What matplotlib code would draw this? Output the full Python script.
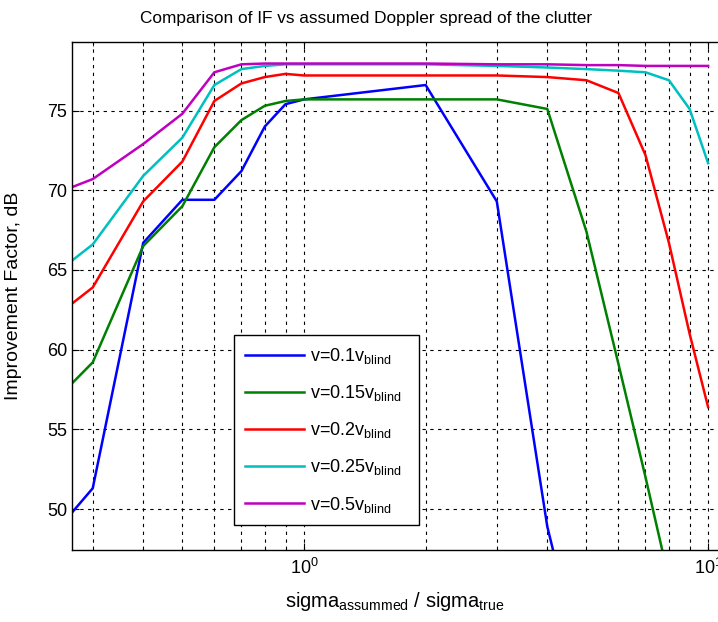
import matplotlib
matplotlib.use("Agg")
import matplotlib.pyplot as plt
import numpy as np
from matplotlib.ticker import LogLocator, FixedLocator, NullFormatter

plt.rcParams["font.family"] = ["Liberation Sans", "DejaVu Sans"]
plt.rcParams["mathtext.default"] = "regular"

# sigma_assumed / sigma_true sample points
sigma_ratio = [0.267, 0.3, 0.4, 0.5, 0.6, 0.7, 0.8, 0.9, 1.0, 2.0, 3.0, 4.0, 5.0, 6.0, 7.0, 8.0, 9.0, 10.0]

if_v010 = [49.8, 51.3, 66.7, 69.4, 69.4, 71.2, 74.0, 75.4, 75.7, 76.6, 69.3, 48.9, 38.9, 30.0, 25.0, 20.0, 15.0, 10.0]
if_v015 = [57.9, 59.2, 66.5, 69.0, 72.7, 74.4, 75.3, 75.6, 75.7, 75.7, 75.7, 75.1, 67.4, 59.1, 52.0, 45.6, 40.0, 35.0]
if_v020 = [62.9, 63.9, 69.3, 71.8, 75.6, 76.7, 77.1, 77.3, 77.2, 77.2, 77.2, 77.1, 76.9, 76.1, 72.2, 66.7, 61.0, 56.4]
if_v025 = [65.6, 66.6, 70.9, 73.3, 76.6, 77.6, 77.8, 77.9, 77.9, 77.9, 77.8, 77.7, 77.6, 77.5, 77.4, 76.9, 75.1, 71.7]
if_v050 = [70.2, 70.7, 72.9, 74.8, 77.4, 77.9, 77.95, 77.95, 77.95, 77.95, 77.9, 77.9, 77.85, 77.85, 77.8, 77.8, 77.8, 77.8]

labels = [r"v=0.1v$_{blind}$", r"v=0.15v$_{blind}$", r"v=0.2v$_{blind}$",
          r"v=0.25v$_{blind}$", r"v=0.5v$_{blind}$"]
colors = ["#0000FF", "#008000", "#FF0000", "#00BFBF", "#BF00BF"]

W, H = 718, 622
fig = plt.figure(figsize=(W / 100, H / 100), dpi=100)
left, right, top, bottom = 72, 730, 42, 550
ax = fig.add_axes([left / W, (H - bottom) / H, (right - left) / W, (bottom - top) / H])

for vals, lab, col in zip([if_v010, if_v015, if_v020, if_v025, if_v050], labels, colors):
    ax.plot(sigma_ratio, vals, color=col, lw=1.8, label=lab)

ax.set_xscale("log")
ax.set_xlim(0.2666, 11.33)
ax.set_ylim(47.43, 79.3)
ax.set_yticks([50, 55, 60, 65, 70, 75])
ax.xaxis.set_major_locator(FixedLocator([1, 10]))
ax.xaxis.set_minor_locator(LogLocator(base=10, subs=np.arange(2, 10)))
ax.xaxis.set_minor_formatter(NullFormatter())

ax.tick_params(which="both", direction="in", top=True, right=True, labelsize=13)
ax.tick_params(which="major", length=5)
ax.tick_params(which="minor", length=3)
ax.tick_params(axis="x", pad=6)
ax.grid(True, which="both", axis="x", color="black", linestyle=(0, (3, 4)), lw=0.8)
ax.grid(True, which="major", axis="y", color="black", linestyle=(0, (3, 4)), lw=0.8)
for s in ax.spines.values():
    s.set_linewidth(1.0)

fig.text(366 / W, 1 - 18 / H, "Comparison of IF vs assumed Doppler spread of the clutter",
         fontsize=12.4, ha="center", va="center")
ax.set_ylabel("Improvement Factor, dB", fontsize=14)
ax.yaxis.set_label_coords(-0.076, 0.5)
ax.set_xlabel(r"sigma$_{assummed}$ / sigma$_{true}$", fontsize=14.5)
ax.xaxis.set_label_coords(0.491, -0.078)

leg = ax.legend(loc="upper left", bbox_to_anchor=(0.246, 0.045, 0.281, 0.378), mode="expand",
                fontsize=13, frameon=True, fancybox=False, edgecolor="black", framealpha=1,
                handlelength=3.3, handletextpad=0.3, labelspacing=0.95, borderpad=0.6,
                borderaxespad=0)
leg.get_frame().set_linewidth(1.0)

fig.savefig("out.png", dpi=100)
